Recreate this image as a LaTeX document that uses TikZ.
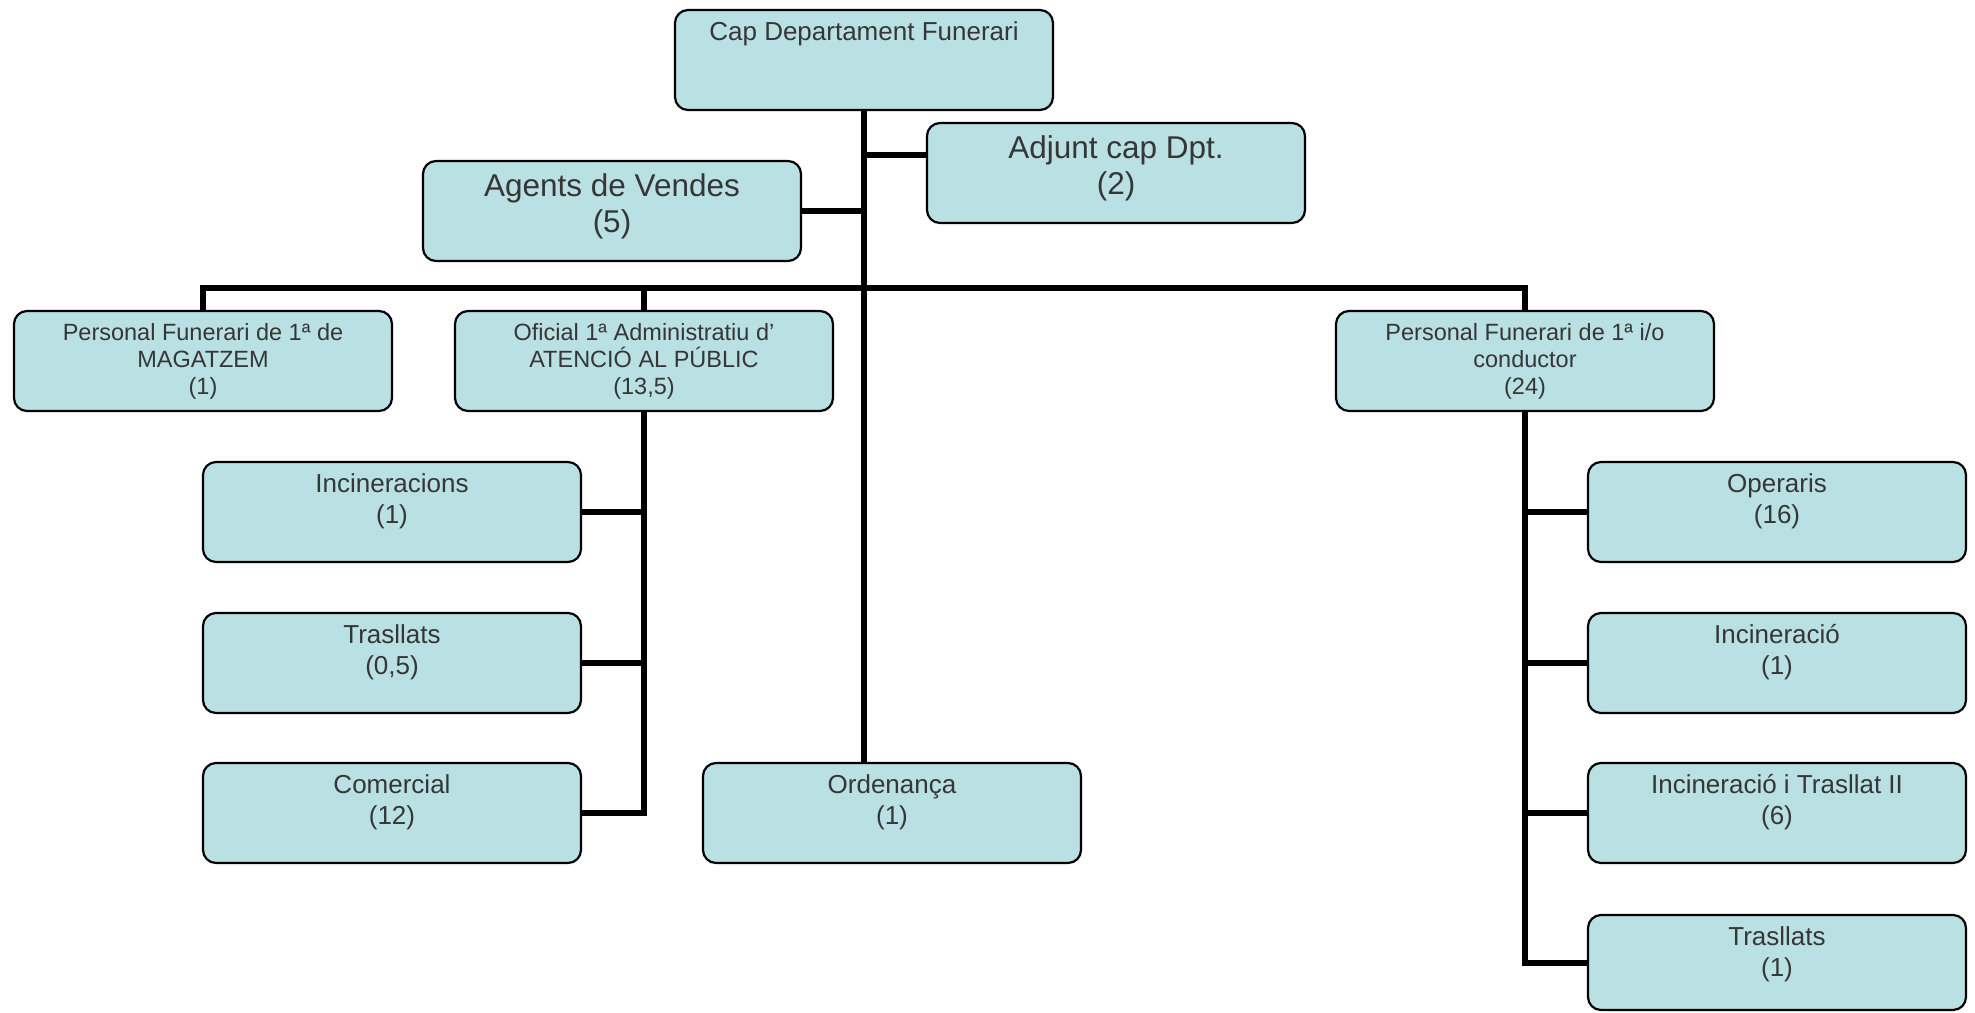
\documentclass[tikz,border=0pt]{standalone}
\usepackage{fontspec}
\setmainfont{Liberation Sans}
\definecolor{boxfill}{HTML}{B9E0E3}
\definecolor{txtgray}{HTML}{363636}
\tikzset{
  obox/.style={draw=black, line width=2.2pt, fill=boxfill, rounded corners=13pt,
    inner sep=0pt, outer sep=0pt, anchor=north west, text=txtgray},
  conn/.style={line width=6pt, draw=black, line join=miter},
}
\newcommand\regtxt[2][100pt]{\parbox[c][#1][t]{378pt}{\centering\fontsize{26}{31.5}\selectfont\rule{0pt}{30pt}#2}}
\newcommand\smltxt[2][100pt]{\parbox[c][#1][t]{378pt}{\centering\fontsize{23.5}{27}\selectfont\rule{0pt}{29pt}#2}}
\newcommand\bigtxt[2][100pt]{\parbox[c][#1][t]{378pt}{\centering\fontsize{31.5}{36}\selectfont\rule{0pt}{35pt}#2}}
\begin{document}
\begin{tikzpicture}[x=1pt,y=-1pt]
\useasboundingbox (0,0) rectangle (1975,1012);
% boxes
\node[obox] (cap) at (675,10) {\regtxt{Cap Departament Funerari}};
\node[obox] (adj) at (927,123) {\bigtxt{Adjunt cap Dpt.\\(2)}};
\node[obox] (agt) at (423,161) {\bigtxt{Agents de Vendes\\(5)}};
\node[obox] (mag) at (14,311) {\smltxt{Personal Funerari de 1ª de\\MAGATZEM\\(1)}};
\node[obox] (ofi) at (455,311) {\smltxt{Oficial 1ª Administratiu d’\\ATENCIÓ AL PÚBLIC\\(13,5)}};
\node[obox] (cond) at (1336,311) {\smltxt{Personal Funerari de 1ª i/o\\conductor\\(24)}};
\node[obox] (inc) at (203,462) {\regtxt{Incineracions\\(1)}};
\node[obox] (tra) at (203,613) {\regtxt{Trasllats\\(0,5)}};
\node[obox] (com) at (203,763) {\regtxt{Comercial\\(12)}};
\node[obox] (ord) at (703,763) {\regtxt{Ordenança\\(1)}};
\node[obox] (ope) at (1588,462) {\regtxt{Operaris\\(16)}};
\node[obox] (incn) at (1588,613) {\regtxt{Incineració\\(1)}};
\node[obox] (itr) at (1588,763) {\regtxt{Incineració i Trasllat II\\(6)}};
\node[obox] (trb) at (1588,915) {\regtxt[95pt]{Trasllats\\(1)}};
% connectors
\coordinate (adjc) at ([yshift=-32pt]adj.north west);
\coordinate (bar) at ([yshift=23pt]mag.north);
\draw[conn] (cap.south) -- (cap.south |- ord.north);
\draw[conn] (adjc) -- (adjc -| cap.south);
\draw[conn] (agt.east) -- (agt.east -| cap.south);
\draw[conn] (mag.north) -- (mag.north |- bar) -- (cond.north |- bar) -- (cond.north);
\draw[conn] (ofi.north) -- (ofi.north |- bar);
\draw[conn] (ofi.south) -- (ofi.south |- com.east) -- (com.east);
\draw[conn] (inc.east) -- (inc.east -| ofi.south);
\draw[conn] (tra.east) -- (tra.east -| ofi.south);
\draw[conn] (cond.south) -- (cond.south |- trb.west) -- (trb.west);
\draw[conn] (ope.west) -- (ope.west -| cond.south);
\draw[conn] (incn.west) -- (incn.west -| cond.south);
\draw[conn] (itr.west) -- (itr.west -| cond.south);
\end{tikzpicture}
\end{document}
